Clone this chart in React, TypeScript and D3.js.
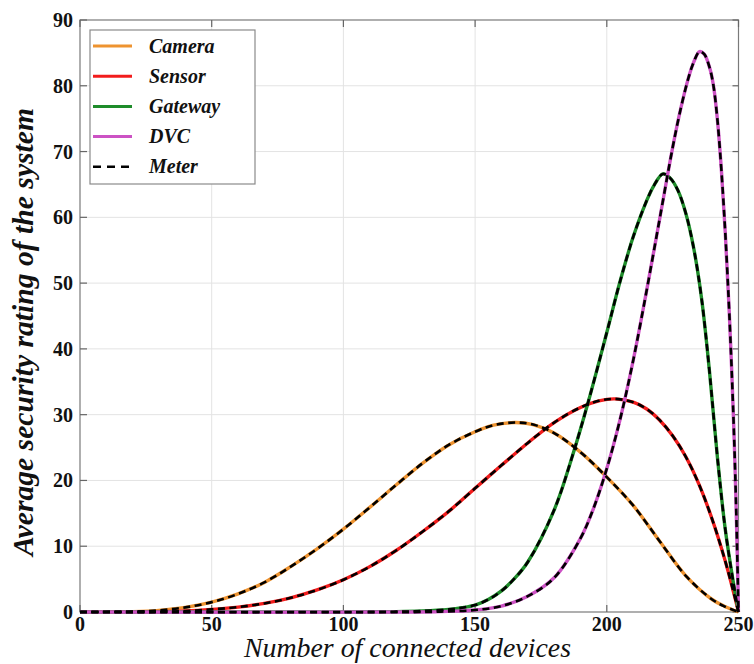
import React from "react";
import * as d3 from "d3";

const cameraX = [0, 20, 30, 40, 50, 60, 70, 80, 90, 100, 110, 120, 130, 140, 150, 157, 165, 172, 180, 190, 200, 210, 220, 230, 240, 245, 250];
const cameraY = [0, 0.06, 0.25, 0.7, 1.5, 2.75, 4.5, 6.9, 9.6, 12.6, 15.9, 19.3, 22.6, 25.4, 27.4, 28.4, 28.8, 28.5, 27.2, 24.3, 20.5, 16.2, 10.8, 5.5, 1.9, 0.8, 0];

const sensorX = [0, 20, 30, 40, 50, 60, 70, 80, 90, 100, 110, 120, 130, 140, 150, 160, 170, 180, 190, 197, 203, 210, 215, 220, 225, 230, 235, 240, 245, 248, 250];
const sensorY = [0, 0.01, 0.04, 0.15, 0.4, 0.75, 1.3, 2.15, 3.35, 4.9, 6.9, 9.35, 12.2, 15.3, 18.8, 22.3, 25.7, 28.8, 31.1, 32.1, 32.4, 31.9, 30.9, 29.2, 26.8, 23.6, 19.4, 14.1, 7.7, 3.2, 0];

const gatewayX = [0, 100, 120, 130, 140, 145, 150, 155, 160, 165, 170, 180, 187, 193, 200, 205, 210, 215, 218, 221.3, 224, 227, 230, 233, 236, 239, 242, 245, 248, 250];
const gatewayY = [0, 0, 0.05, 0.15, 0.4, 0.65, 1.05, 1.9, 3.2, 5.1, 7.6, 15.5, 23.8, 32.0, 42.5, 50.2, 57.0, 62.4, 64.9, 66.6, 66.0, 64.1, 60.6, 55.3, 47.6, 36.5, 23.5, 12.5, 4.6, 0];

const dvcX = [0, 130, 140, 150, 160, 170, 180, 190, 195, 200, 205, 210, 215, 220, 225, 228, 231, 233, 235.2, 237, 239, 240.5, 242, 243.5, 245, 246.5, 248, 249, 250];
const dvcY = [0, 0, 0.1, 0.3, 0.9, 2.4, 5.2, 11.2, 15.8, 21.8, 29.2, 38.2, 48.6, 59.6, 70.6, 76.4, 81.2, 83.6, 85.2, 84.8, 82.8, 80.0, 74.8, 67.2, 57.5, 45.5, 30.5, 17.5, 0];

const seriesNames = ["Camera", "Sensor", "Gateway", "DVC"];
const seriesColors = ["#EE9330", "#F21C1C", "#1E8C2A", "#CC52C4"];
const seriesXs = [cameraX, sensorX, gatewayX, dvcX];
const seriesYs = [cameraY, sensorY, gatewayY, dvcY];
const meterName = "Meter";

const xTicks = [0, 50, 100, 150, 200, 250];
const yTicks = [0, 10, 20, 30, 40, 50, 60, 70, 80, 90];
const xTitle = "Number of connected devices";
const yTitle = "Average security rating of the system";

const W = 754;
const H = 664;
const L = 80;
const R = 738.5;
const T = 20;
const B = 612;
const FONT = "'Liberation Serif', 'Times New Roman', serif";

export default function App() {
  const x = d3.scaleLinear().domain([0, 250]).range([L, R]);
  const y = d3.scaleLinear().domain([0, 90]).range([B, T]);
  const line = d3
    .line<[number, number]>()
    .x((d) => x(d[0]))
    .y((d) => y(Math.max(0, d[1])))
    .curve(d3.curveCatmullRom.alpha(0.5));

  const paths = seriesXs.map((xs, i) =>
    line(xs.map((v, j) => [v, seriesYs[i][j]] as [number, number])) || ""
  );

  const legendRows = [...seriesNames, meterName];
  const legendColors = [...seriesColors, "#000"];

  return (
    <svg
      width={W}
      height={H}
      style={{ position: "absolute", left: 0, top: 0, background: "#fff" }}
      fontFamily={FONT}
    >
      <rect x={0} y={0} width={W} height={H} fill="#fff" />
      <defs>
        <clipPath id="plotClip">
          <rect x={L} y={T - 2} width={R - L + 2} height={B - T + 4} />
        </clipPath>
      </defs>
      {/* grid */}
      {xTicks.slice(1, -1).map((t) => (
        <line key={"gx" + t} x1={x(t)} x2={x(t)} y1={T} y2={B} stroke="#e3e3e3" strokeWidth={1} />
      ))}
      {yTicks.slice(1, -1).map((t) => (
        <line key={"gy" + t} x1={L} x2={R} y1={y(t)} y2={y(t)} stroke="#e3e3e3" strokeWidth={1} />
      ))}
      {/* frame */}
      <rect x={L} y={T} width={R - L} height={B - T} fill="none" stroke="#7a7a7a" strokeWidth={1.2} />
      {/* ticks */}
      {xTicks.map((t) => (
        <g key={"tx" + t}>
          <line x1={x(t)} x2={x(t)} y1={B} y2={B - 7} stroke="#666" strokeWidth={1.2} />
          <line x1={x(t)} x2={x(t)} y1={T} y2={T + 7} stroke="#666" strokeWidth={1.2} />
        </g>
      ))}
      {yTicks.map((t) => (
        <g key={"ty" + t}>
          <line x1={L} x2={L + 7} y1={y(t)} y2={y(t)} stroke="#666" strokeWidth={1.2} />
          <line x1={R} x2={R - 6} y1={y(t)} y2={y(t)} stroke="#666" strokeWidth={1.2} />
        </g>
      ))}
      {/* tick labels */}
      {xTicks.map((t) => (
        <text key={"lx" + t} x={x(t)} y={631} textAnchor="middle" fontSize={20} fontWeight="bold" fill="#111">
          {t}
        </text>
      ))}
      {yTicks.map((t) => (
        <text key={"ly" + t} x={73} y={y(t) + 7} textAnchor="end" fontSize={20} fontWeight="bold" fill="#111">
          {t}
        </text>
      ))}
      {/* axis titles */}
      <text
        x={407.5}
        y={657}
        textAnchor="middle"
        fontSize={27}
        fontStyle="italic"
        fill="#111"
        textLength={327}
        lengthAdjust="spacingAndGlyphs"
      >
        {xTitle}
      </text>
      <text
        transform={`translate(33, 332) rotate(-90)`}
        textAnchor="middle"
        fontSize={29}
        fontStyle="italic"
        fontWeight="bold"
        fill="#111"
        textLength={448}
        lengthAdjust="spacingAndGlyphs"
      >
        {yTitle}
      </text>
      {/* series */}
      <g clipPath="url(#plotClip)">
        {paths.map((p, i) => (
          <path key={"s" + i} d={p} fill="none" stroke={seriesColors[i]} strokeWidth={3.4} strokeLinejoin="round" />
        ))}
        {paths.map((p, i) => (
          <path
            key={"m" + i}
            d={p}
            fill="none"
            stroke="#000"
            strokeWidth={2.6}
            strokeDasharray="7,4.5"
          />
        ))}
      </g>
      {/* legend */}
      <rect x={90} y={30} width={165} height={154} fill="#fff" stroke="#8a8a8a" strokeWidth={1.2} />
      {legendRows.map((name, i) => {
        const ry = 46 + i * 30.2;
        return (
          <g key={"lg" + name}>
            <line
              x1={93}
              x2={132}
              y1={ry}
              y2={ry}
              stroke={legendColors[i]}
              strokeWidth={i === 4 ? 2.6 : 3}
              strokeDasharray={i === 4 ? "8,6" : undefined}
            />
            <text x={149} y={ry + 6.5} fontSize={20} fontWeight="bold" fontStyle="italic" fill="#111">
              {name}
            </text>
          </g>
        );
      })}
    </svg>
  );
}
